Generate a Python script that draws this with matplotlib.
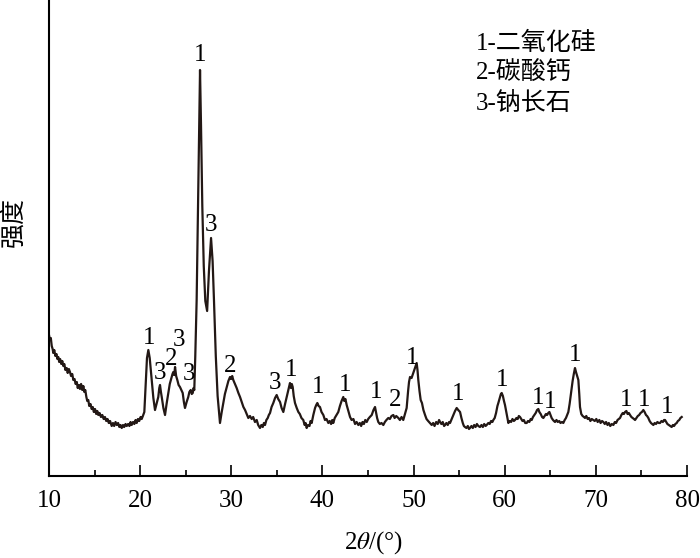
import matplotlib
matplotlib.use('Agg')
import matplotlib.pyplot as plt
from matplotlib.ticker import MultipleLocator

plt.rcParams['font.family'] = ['Liberation Serif', 'Noto Sans CJK SC']
plt.rcParams['mathtext.fontset'] = 'stix'

# XRD pattern (2theta in degrees, intensity in arbitrary units)
two_theta = [
    10.00, 10.10, 10.20, 10.30, 10.40, 10.47, 10.58, 10.70, 10.82, 10.92,
    11.02, 11.12, 11.22, 11.35, 11.46, 11.57, 11.68, 11.80, 11.94, 12.05,
    12.18, 12.30, 12.42, 12.55, 12.67, 12.80, 12.92, 13.05, 13.15, 13.28,
    13.40, 13.52, 13.65, 13.77, 13.88, 13.98, 14.10, 14.20, 14.31, 14.42,
    14.55, 14.68, 14.80, 14.92, 15.05, 15.18, 15.30, 15.41, 15.55, 15.70,
    15.85, 16.00, 16.14, 16.28, 16.42, 16.56, 16.70, 16.88, 17.02, 17.15,
    17.30, 17.43, 17.58, 17.72, 17.85, 17.98, 18.12, 18.25, 18.40, 18.53,
    18.68, 18.82, 18.95, 19.07, 19.22, 19.36, 19.50, 19.62, 19.76, 19.90,
    20.05, 20.17, 20.30, 20.46, 20.60, 20.75, 20.90, 21.05, 21.27, 21.45,
    21.63, 21.80, 21.99, 22.10, 22.18, 22.28, 22.37, 22.55, 22.73, 22.90,
    23.09, 23.25, 23.46, 23.55, 23.64, 23.74, 23.83, 23.95, 24.08, 24.22,
    24.37, 24.52, 24.67, 24.80, 24.92, 25.10, 25.28, 25.40, 25.55, 25.66,
    25.77, 25.86, 25.94, 26.05, 26.20, 26.35, 26.47, 26.57, 26.68, 26.82,
    26.98, 27.15, 27.35, 27.55, 27.78, 27.95, 28.10, 28.30, 28.50, 28.76,
    28.95, 29.13, 29.30, 29.50, 29.68, 29.86, 29.98, 30.10, 30.22, 30.40,
    30.59, 30.78, 30.96, 31.15, 31.33, 31.51, 31.69, 31.87, 32.05, 32.24,
    32.40, 32.60, 32.79, 32.95, 33.15, 33.30, 33.45, 33.58, 33.70, 33.85,
    34.00, 34.12, 34.25, 34.42, 34.61, 34.80, 34.98, 35.15, 35.35, 35.52,
    35.71, 35.90, 36.08, 36.25, 36.44, 36.55, 36.64, 36.74, 36.85, 36.99,
    37.18, 37.36, 37.52, 37.70, 37.90, 38.05, 38.15, 38.27, 38.42, 38.58,
    38.70, 38.82, 39.00, 39.19, 39.32, 39.44, 39.58, 39.73, 39.90, 40.10,
    40.28, 40.45, 40.65, 40.80, 40.95, 41.08, 41.19, 41.35, 41.55, 41.74,
    41.92, 42.10, 42.29, 42.40, 42.52, 42.66, 42.85, 43.03, 43.20, 43.40,
    43.58, 43.75, 43.94, 44.10, 44.25, 44.40, 44.55, 44.70, 44.86, 45.02,
    45.20, 45.41, 45.60, 45.77, 45.90, 46.00, 46.13, 46.30, 46.48, 46.68,
    46.85, 47.02, 47.23, 47.40, 47.58, 47.78, 47.92, 48.10, 48.33, 48.50,
    48.68, 48.87, 49.05, 49.24, 49.40, 49.50, 49.61, 49.78, 49.97, 50.15,
    50.34, 50.43, 50.52, 50.65, 50.78, 50.92, 51.08, 51.26, 51.42, 51.60,
    51.80, 51.99, 52.15, 52.30, 52.48, 52.65, 52.80, 52.90, 53.05, 53.20,
    53.35, 53.45, 53.60, 53.75, 53.90, 54.00, 54.18, 54.36, 54.55, 54.73,
    54.90, 55.10, 55.25, 55.40, 55.52, 55.64, 55.80, 55.95, 56.08, 56.19,
    56.35, 56.50, 56.65, 56.80, 56.95, 57.10, 57.29, 57.45, 57.60, 57.75,
    57.90, 58.02, 58.20, 58.35, 58.50, 58.65, 58.75, 58.90, 59.05, 59.20,
    59.30, 59.45, 59.58, 59.67, 59.80, 59.92, 60.03, 60.15, 60.28, 60.40,
    60.55, 60.70, 60.85, 61.00, 61.13, 61.28, 61.42, 61.55, 61.68, 61.82,
    61.95, 62.10, 62.25, 62.41, 62.55, 62.70, 62.85, 62.96, 63.10, 63.25,
    63.40, 63.55, 63.69, 63.80, 63.95, 64.10, 64.24, 64.38, 64.52, 64.65,
    64.78, 64.90, 65.02, 65.15, 65.30, 65.40, 65.52, 65.68, 65.82, 65.98,
    66.12, 66.28, 66.43, 66.58, 66.72, 66.85, 66.98, 67.12, 67.30, 67.45,
    67.58, 67.71, 67.82, 67.95, 68.08, 68.18, 68.26, 68.40, 68.55, 68.70,
    68.81, 68.95, 69.10, 69.25, 69.40, 69.55, 69.72, 69.88, 70.05, 70.20,
    70.38, 70.52, 70.68, 70.82, 70.98, 71.12, 71.28, 71.42, 71.58, 71.75,
    71.92, 72.08, 72.22, 72.38, 72.52, 72.65, 72.80, 72.95, 73.08, 73.20,
    73.35, 73.48, 73.62, 73.75, 73.90, 74.05, 74.18, 74.30, 74.45, 74.60,
    74.75, 74.90, 75.05, 75.21, 75.35, 75.50, 75.62, 75.76, 75.90, 76.05,
    76.18, 76.31, 76.45, 76.60, 76.75, 76.90, 77.04, 77.20, 77.35, 77.48,
    77.59, 77.72, 77.85, 78.00, 78.15, 78.32, 78.45, 78.58, 78.72, 78.87,
    79.00, 79.15, 79.28, 79.42,
]
intensity = [
    141, 136, 138, 130, 127, 123, 126, 120, 122, 117,
    119, 114, 117, 112, 115, 110, 112, 106, 108, 103,
    107, 104, 100, 102, 96, 97, 92, 94, 88, 91,
    87, 92, 86, 90, 84, 86, 79, 75, 76, 70,
    72, 67, 69, 64, 67, 62, 65, 61, 63, 59,
    61, 57, 59, 55, 57, 53, 55, 50, 53, 50,
    54, 51, 53, 49, 51, 48, 51, 49, 52, 50,
    52, 50, 54, 51, 54, 52, 56, 53, 57, 55,
    59, 57, 60, 64, 90, 118, 126, 118, 96, 78,
    66, 72, 79, 88, 91, 84, 79, 68, 61, 72,
    83, 92, 99, 102, 104, 101, 109, 100, 96, 91,
    89, 86, 83, 74, 68, 74, 79, 84, 86, 82,
    83, 88, 86, 120, 176, 270, 350, 406, 350, 270,
    210, 175, 165, 205, 238, 215, 176, 120, 80, 53,
    64, 73, 82, 89, 95, 99, 97, 100, 96, 92,
    88, 83, 79, 74, 69, 66, 62, 58, 60, 57,
    59, 54, 56, 51, 48, 51, 49, 53, 51, 56,
    58, 61, 63, 69, 73, 78, 81, 77, 74, 68,
    64, 72, 79, 86, 93, 88, 92, 89, 80, 73,
    68, 64, 62, 58, 56, 51, 53, 48, 51, 50,
    55, 53, 61, 68, 71, 73, 70, 69, 64, 61,
    56, 57, 53, 55, 52, 56, 53, 58, 61, 64,
    70, 75, 79, 75, 77, 71, 65, 59, 56, 57,
    52, 54, 51, 53, 50, 54, 52, 56, 54, 57,
    59, 61, 66, 69, 63, 58, 54, 52, 53, 51,
    54, 56, 58, 57, 60, 61, 58, 60, 58, 56,
    59, 56, 62, 68, 85, 94, 99, 98, 103, 108,
    113, 106, 96, 85, 76, 73, 66, 61, 57, 55,
    53, 51, 53, 50, 54, 52, 56, 54, 52, 54,
    50, 51, 53, 51, 54, 53, 57, 61, 65, 68,
    66, 64, 58, 53, 50, 49, 48, 50, 47, 48,
    50, 48, 51, 49, 52, 50, 49, 51, 49, 52,
    50, 51, 53, 52, 55, 54, 56, 58, 63, 70,
    73, 78, 82, 83, 80, 75, 71, 65, 58, 53,
    55, 54, 57, 55, 56, 58, 57, 60, 59, 57,
    55, 56, 53, 53, 55, 54, 57, 56, 59, 61,
    63, 66, 67, 64, 62, 59, 58, 60, 62, 61,
    63, 64, 61, 58, 56, 55, 54, 56, 54, 55,
    53, 54, 53, 56, 58, 61, 64, 72, 85, 95,
    102, 108, 104, 100, 96, 82, 69, 62, 60, 59,
    58, 60, 57, 58, 55, 57, 56, 55, 57, 54,
    56, 53, 55, 54, 52, 54, 51, 53, 50, 52,
    51, 54, 53, 56, 57, 58, 61, 63, 62, 64,
    65, 62, 63, 61, 59, 58, 57, 56, 58, 60,
    61, 63, 64, 66, 64, 61, 60, 58, 55, 53,
    52, 51, 53, 52, 54, 53, 53, 55, 54, 56,
    56, 54, 52, 51, 50, 49, 51, 50, 52, 53,
    55, 56, 58, 59,
]

# peak labels: 1 quartz, 2 calcite, 3 albite
peak_text = ['1', '3', '2', '3', '3', '1', '3', '2', '3', '1', '1', '1',
             '1', '2', '1', '1', '1', '1', '1', '1', '1', '1', '1']
peak_x = [20.97, 22.18, 23.35, 24.25, 25.36, 26.57, 27.78, 29.86, 34.80, 36.55,
          39.51, 42.48, 45.88, 47.96, 49.83, 54.88, 59.70, 63.65, 64.97, 67.71,
          73.31, 75.29, 77.81]
peak_y = [138, 103, 117, 136, 102, 421, 251, 110, 93, 106,
          89, 91, 84, 76, 118, 82, 96, 78, 74, 121,
          76, 76, 69]

legend_lines = ['1-二氧化硅', '2-碳酸钙', '3-钠长石']

fig = plt.figure(figsize=(7, 5.58), dpi=100)
ax = fig.add_axes([49 / 700, 1 - 476 / 558, 638 / 700, 476 / 558])
ax.plot(two_theta, intensity, color='#231815', lw=1.6)

for t, x, y in zip(peak_text, peak_x, peak_y):
    ax.text(x, y, t, ha='center', va='center', fontsize=18)

for i, s in enumerate(legend_lines):
    fig.text(476 / 700, 1 - (43 + 30 * i) / 558, s, ha='left', va='center', fontsize=18)

ax.set_xlim(10, 80)
ax.set_ylim(0, 476)
ax.spines['top'].set_visible(False)
ax.spines['right'].set_visible(False)
ax.spines['left'].set_linewidth(1.5)
ax.spines['bottom'].set_linewidth(1.5)
ax.set_yticks([])
ax.xaxis.set_major_locator(MultipleLocator(10))
ax.xaxis.set_minor_locator(MultipleLocator(5))
ax.tick_params(axis='x', which='major', direction='in', length=8, width=1.2, labelsize=18, pad=10)
ax.tick_params(axis='x', which='minor', direction='in', length=4, width=1.2)

fig.text(374 / 700, 1 - 543 / 558, r'2$\theta$/(°)', ha='center', va='center', fontsize=18)
fig.text(14 / 700, 1 - 222 / 558, '强度', ha='center', va='center', rotation=90, fontsize=18)

fig.savefig('out.png', dpi=100)
